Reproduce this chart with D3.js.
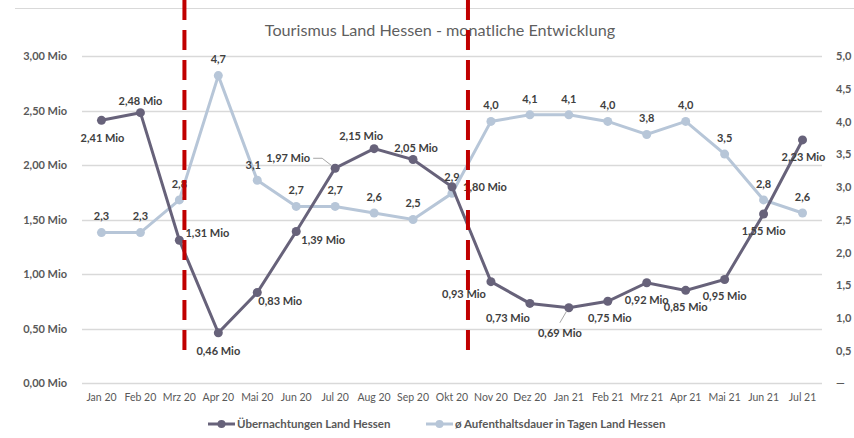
<!DOCTYPE html>
<html>
<head>
<meta charset="utf-8">
<script src="https://cdn.jsdelivr.net/npm/d3@7"></script>
<style>
  body { margin: 0; background: #fff; }
  svg { display: block; font-family: Lato, "Noto Sans", sans-serif; }
</style>
</head>
<body>
<svg id="chart" width="854" height="438"></svg>
<script>
// months
const months = ['Jan 20','Feb 20','Mrz 20','Apr 20','Mai 20','Jun 20','Jul 20','Aug 20','Sep 20','Okt 20',
  'Nov 20','Dez 20','Jan 21','Feb 21','Mrz 21','Apr 21','Mai 21','Jun 21','Jul 21'];
// overnight stays, million
const stays = [2.41, 2.48, 1.31, 0.46, 0.83, 1.39, 1.97, 2.15, 2.05, 1.80,
  0.93, 0.73, 0.69, 0.75, 0.92, 0.85, 0.95, 1.55, 2.23];
// average length of stay, days
const duration = [2.3, 2.3, 2.8, 4.7, 3.1, 2.7, 2.7, 2.6, 2.5, 2.9,
  4.0, 4.1, 4.1, 4.0, 3.8, 4.0, 3.5, 2.8, 2.6];
const leftTicks = [0, 0.5, 1, 1.5, 2, 2.5, 3];
const rightTicks = [0, 0.5, 1, 1.5, 2, 2.5, 3, 3.5, 4, 4.5, 5];
const lockdownMonths = ['Mrz 20', 'Okt 20'];

const title = 'Tourismus Land Hessen - monatliche Entwicklung';
const seriesNames = ['Übernachtungen Land Hessen', 'ø Aufenthaltsdauer in Tagen Land Hessen'];

const darkColor = '#67627a';
const lightColor = '#b7c6d8';
const textColor = '#595959';
const labelColor = '#404040';

const svg = d3.select('#chart');
const plot = { left: 82, right: 822, top: 56, bottom: 383 };

const x = d3.scaleBand().domain(months).range([plot.left, plot.right]);
const cx = d => x(d) + x.bandwidth() / 2;
const yL = d3.scaleLinear().domain([0, 3]).range([plot.bottom, plot.top]);
const yR = d3.scaleLinear().domain([0, 5]).range([plot.bottom, plot.top]);

const fmt2 = v => d3.format('.2f')(v).replace('.', ',');
const fmt1 = v => d3.format('.1f')(v).replace('.', ',');

// top border
svg.append('line')
  .attr('x1', 15).attr('x2', 854).attr('y1', 8.5).attr('y2', 8.5)
  .attr('stroke', '#d9d9d9').attr('stroke-width', 1);

// title
svg.append('text')
  .attr('x', 440).attr('y', 36)
  .attr('text-anchor', 'middle')
  .style('font-size', '16.2px')
  .style('fill', '#5f5f5f')
  .text(title);

// gridlines
svg.append('g').selectAll('line')
  .data(leftTicks)
  .join('line')
  .attr('x1', plot.left).attr('x2', plot.right)
  .attr('y1', d => Math.round(yL(d)) + 0.5).attr('y2', d => Math.round(yL(d)) + 0.5)
  .attr('stroke', '#d9d9d9').attr('stroke-width', 1.5);

// left axis
const leftAxis = svg.append('g')
  .attr('transform', `translate(${plot.left - 12},0)`)
  .call(d3.axisLeft(yL).tickValues(leftTicks).tickSize(0).tickFormat(d => fmt2(d) + ' Mio'));
leftAxis.select('.domain').remove();
leftAxis.selectAll('text')
  .attr('dy', '0.35em')
  .style('font-size', '11px').style('font-weight', 'bold')
  .style('fill', textColor).style('font-family', 'Lato, sans-serif');

// right axis
const rightAxis = svg.append('g')
  .attr('transform', `translate(${plot.right + 11},0)`)
  .call(d3.axisRight(yR).tickValues(rightTicks).tickSize(0).tickFormat(d => d === 0 ? '—' : fmt1(d)));
rightAxis.select('.domain').remove();
rightAxis.selectAll('text')
  .attr('dy', '0.35em')
  .style('font-size', '11px').style('font-weight', 'bold')
  .style('fill', textColor).style('font-family', 'Lato, sans-serif');

// x axis
const xAxis = svg.append('g')
  .attr('transform', `translate(0,${plot.bottom + 8})`)
  .call(d3.axisBottom(x).tickSize(0));
xAxis.select('.domain').remove();
xAxis.selectAll('text')
  .attr('dy', '0.7em')
  .style('font-size', '10.5px')
  .style('fill', textColor).style('font-family', 'Lato, sans-serif');

// duration line (light)
const lineR = d3.line().x((d, i) => cx(months[i])).y(d => yR(d));
svg.append('path')
  .datum(duration)
  .attr('d', lineR)
  .attr('fill', 'none').attr('stroke', lightColor).attr('stroke-width', 3);
svg.append('g').selectAll('circle')
  .data(duration)
  .join('circle')
  .attr('cx', (d, i) => cx(months[i])).attr('cy', d => yR(d))
  .attr('r', 4.5).attr('fill', lightColor);

// stays line (dark)
const lineL = d3.line().x((d, i) => cx(months[i])).y(d => yL(d));
svg.append('path')
  .datum(stays)
  .attr('d', lineL)
  .attr('fill', 'none').attr('stroke', darkColor).attr('stroke-width', 3);
svg.append('g').selectAll('circle')
  .data(stays)
  .join('circle')
  .attr('cx', (d, i) => cx(months[i])).attr('cy', d => yL(d))
  .attr('r', 4.5).attr('fill', darkColor);

// label placement for stays (dx, dy from point)
const stayOffsets = [
  [1, 18], [0, -12], [28, -7], [0, 18], [23, 9], [27, 9], [-47, -10], [-13, -13], [3, -11], [33, 0],
  [-27, 13], [-22, 15], [-9, 25], [2, 17], [0, 17], [0, 17], [0, 17], [0, 17], [1, 17]
];
// leader lines for labels far away from their point
const leaders = {
  'Jul 20': [[-22, -10], [-13, -10], [-4, -3]],
  'Jan 21': [[-9, 15], [-2, 3]]
};

const durOffsets = duration.map((d, i) => i === 4 ? [-4, -15] : [0, -16]);

svg.append('g').selectAll('text')
  .data(duration)
  .join('text')
  .attr('x', (d, i) => cx(months[i]) + durOffsets[i][0])
  .attr('y', (d, i) => yR(d) + durOffsets[i][1])
  .attr('text-anchor', 'middle')
  .attr('dy', '0.35em')
  .style('font-size', '11px').style('font-weight', 'bold')
  .style('fill', labelColor)
  .text(d => fmt1(d));

Object.entries(leaders).forEach(([m, pts]) => {
  const i = months.indexOf(m);
  const px = cx(m), py = yL(stays[i]);
  svg.append('polyline')
    .attr('points', pts.map(p => `${px + p[0]},${py + p[1]}`).join(' '))
    .attr('fill', 'none').attr('stroke', '#a6a6a6').attr('stroke-width', 1);
});

svg.append('g').selectAll('text')
  .data(stays)
  .join('text')
  .attr('x', (d, i) => cx(months[i]) + stayOffsets[i][0])
  .attr('y', (d, i) => yL(d) + stayOffsets[i][1])
  .attr('text-anchor', 'middle')
  .attr('dy', '0.35em')
  .style('font-size', '11px').style('font-weight', 'bold')
  .style('fill', labelColor)
  .text(d => fmt2(d) + ' Mio');

// red dashed markers
const lockdownShift = [0.13, 0.41];
svg.append('g').selectAll('line')
  .data(lockdownMonths)
  .join('line')
  .attr('x1', (d, i) => cx(d) + lockdownShift[i] * x.bandwidth())
  .attr('x2', (d, i) => cx(d) + lockdownShift[i] * x.bandwidth())
  .attr('y1', 0).attr('y2', 357)
  .attr('stroke', '#c00000').attr('stroke-width', 4)
  .attr('stroke-dasharray', '20,10');

// legend
const legend = svg.append('g').attr('transform', 'translate(0,424)');
const legendItems = [
  { name: seriesNames[0], color: darkColor, x: 208 },
  { name: seriesNames[1], color: lightColor, x: 426 }
];
legendItems.forEach(it => {
  legend.append('line')
    .attr('x1', it.x).attr('x2', it.x + 27).attr('y1', 0).attr('y2', 0)
    .attr('stroke', it.color).attr('stroke-width', 3);
  legend.append('circle')
    .attr('cx', it.x + 13.5).attr('cy', 0).attr('r', 4).attr('fill', it.color);
  legend.append('text')
    .attr('x', it.x + 29).attr('y', 0).attr('dy', '0.35em')
    .style('font-size', '11.5px').style('font-weight', 'bold')
    .style('fill', textColor)
    .text(it.name);
});
</script>
</body>
</html>
